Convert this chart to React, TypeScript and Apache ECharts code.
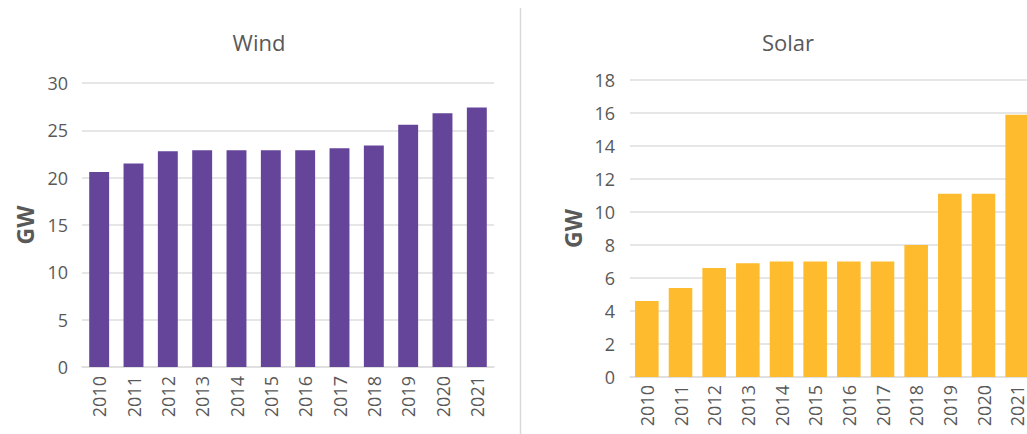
import React, { useEffect, useRef } from "react";
import * as echarts from "echarts";

const years = ["2010", "2011", "2012", "2013", "2014", "2015", "2016", "2017", "2018", "2019", "2020", "2021"];
const windGW = [20.6, 21.5, 22.8, 22.9, 22.9, 22.9, 22.9, 23.1, 23.4, 25.6, 26.8, 27.4];
const solarGW = [4.6, 5.4, 6.6, 6.9, 7.0, 7.0, 7.0, 7.0, 8.0, 11.1, 11.1, 15.9];
const chartTitles = ["Wind", "Solar"];
const unitLabel = "GW";

const FONT = "'Open Sans', 'Noto Sans', sans-serif";
const TEXT = "#595959";
const GRID = "#dedede";

export default function App() {
  const ref = useRef<HTMLDivElement>(null);
  useEffect(() => {
    if (!ref.current) return;
    const chart = echarts.init(ref.current, undefined, { renderer: "svg" });
    const xAxisBase = (gridIndex: number, margin: number) => ({
      type: "category" as const,
      gridIndex,
      data: years,
      axisTick: { show: false },
      axisLine: { lineStyle: { color: GRID, width: 1.5 } },
      axisLabel: { rotate: 90, color: TEXT, fontSize: 18, fontFamily: FONT, margin },
    });
    const yAxisBase = (gridIndex: number, max: number, interval: number, margin: number, gap: number) => ({
      type: "value" as const,
      gridIndex,
      min: 0,
      max,
      interval,
      name: unitLabel,
      nameLocation: "middle" as const,
      nameGap: gap,
      nameRotate: 90,
      nameTextStyle: { color: TEXT, fontSize: 23, fontWeight: "bold" as const, fontFamily: FONT },
      axisLine: { show: false },
      axisTick: { show: false },
      axisLabel: { color: TEXT, fontSize: 18, fontFamily: FONT, margin },
      splitLine: { lineStyle: { color: GRID, width: 1.5 } },
    });
    chart.setOption({
      animation: false,
      backgroundColor: "#ffffff",
      grid: [
        { left: 82, top: 83, width: 412, height: 284 },
        { left: 630, top: 80, width: 404, height: 297 },
      ],
      xAxis: [xAxisBase(0, 9), xAxisBase(1, 8)],
      yAxis: [yAxisBase(0, 30, 5, 14, 46), yAxisBase(1, 18, 2, 15, 46)],
      series: [
        {
          type: "bar",
          xAxisIndex: 0,
          yAxisIndex: 0,
          data: windGW,
          barCategoryGap: "42%",
          itemStyle: { color: "#64459a" },
        },
        {
          type: "bar",
          xAxisIndex: 1,
          yAxisIndex: 1,
          data: solarGW,
          barCategoryGap: "30%",
          itemStyle: { color: "#fdbb2d" },
        },
      ],
      graphic: [
        {
          type: "text",
          x: 259,
          y: 42,
          style: { text: chartTitles[0], fill: TEXT, fontSize: 22, fontFamily: FONT, align: "center", verticalAlign: "middle" },
        },
        {
          type: "text",
          x: 788,
          y: 42,
          style: { text: chartTitles[1], fill: TEXT, fontSize: 22, fontFamily: FONT, align: "center", verticalAlign: "middle" },
        },
        {
          type: "line",
          shape: { x1: 520.5, y1: 8, x2: 520.5, y2: 434 },
          style: { stroke: "#d9d9d9", lineWidth: 1.5 },
        },
      ],
    });
    return () => chart.dispose();
  }, []);
  return (
    <div style={{ position: "fixed", left: 0, top: 0, width: 1027, height: 434, overflow: "hidden", background: "#fff" }}>
      <div ref={ref} style={{ width: 1045, height: 434 }} />
    </div>
  );
}
